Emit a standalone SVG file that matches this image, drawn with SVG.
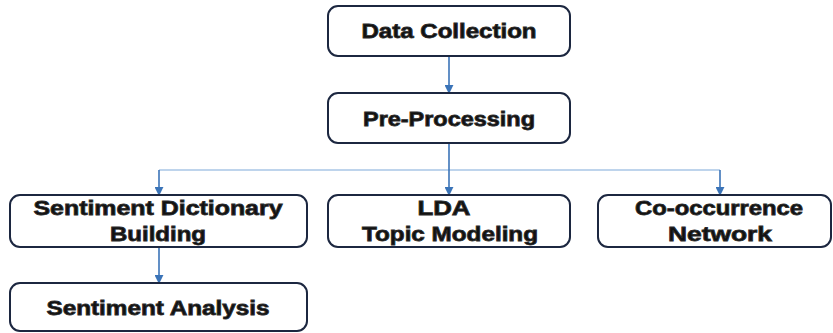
<svg xmlns="http://www.w3.org/2000/svg" width="833" height="333" viewBox="0 0 833 333">
  <defs>
    <style>
      .box { fill: #ffffff; stroke: #1c2740; stroke-width: 2; }
      .lbl { font-family: "Liberation Sans", Arial, sans-serif; font-weight: bold; font-size: 20px; fill: #111111; stroke: #2a2a2a; stroke-width: 0.8; text-anchor: middle; dominant-baseline: central; }
      .trunk { fill: none; stroke: #3b74b8; stroke-width: 1.6; }
      .branch { fill: none; stroke: #a9c6e6; stroke-width: 1.6; }
    </style>
    <marker id="arrow" viewBox="0 0 10 10" refX="9" refY="5" markerWidth="9" markerHeight="9" orient="auto" markerUnits="userSpaceOnUse">
      <path d="M0,0 L10,5 L0,10 Z" fill="#3b74b8"/>
    </marker>
  </defs>
  <rect width="833" height="333" fill="#ffffff"/>

  <g id="connectors">
    <line class="trunk" x1="449" y1="57" x2="449" y2="93" marker-end="url(#arrow)"/>
    <line class="branch" x1="159" y1="170" x2="720" y2="170"/>
    <line class="trunk" x1="449" y1="144" x2="449" y2="195" marker-end="url(#arrow)"/>
    <line class="trunk" x1="159" y1="170" x2="159" y2="195" marker-end="url(#arrow)"/>
    <line class="trunk" x1="720" y1="170" x2="720" y2="195" marker-end="url(#arrow)"/>
    <line class="trunk" x1="159" y1="247" x2="159" y2="283" marker-end="url(#arrow)"/>
  </g>

  <g id="data-collection">
    <rect class="box" x="328" y="6" width="242" height="50" rx="10"/>
    <text class="lbl" x="449" y="31" textLength="175" lengthAdjust="spacingAndGlyphs">Data Collection</text>
  </g>

  <g id="pre-processing">
    <rect class="box" x="328" y="93" width="242" height="50" rx="10"/>
    <text class="lbl" x="449" y="119" textLength="172" lengthAdjust="spacingAndGlyphs">Pre-Processing</text>
  </g>

  <g id="sentiment-dictionary">
    <rect class="box" x="10" y="195" width="297" height="52" rx="10"/>
    <text class="lbl" x="158" y="208" textLength="249" lengthAdjust="spacingAndGlyphs">Sentiment Dictionary</text>
    <text class="lbl" x="158" y="234" textLength="96" lengthAdjust="spacingAndGlyphs">Building</text>
  </g>

  <g id="lda-topic-modeling">
    <rect class="box" x="328" y="195" width="242" height="52" rx="10"/>
    <text class="lbl" x="444" y="208" textLength="53" lengthAdjust="spacingAndGlyphs">LDA</text>
    <text class="lbl" x="450" y="234" textLength="176" lengthAdjust="spacingAndGlyphs">Topic Modeling</text>
  </g>

  <g id="co-occurrence-network">
    <rect class="box" x="598" y="195" width="233" height="52" rx="10"/>
    <text class="lbl" x="719" y="208" textLength="168" lengthAdjust="spacingAndGlyphs">Co-occurrence</text>
    <text class="lbl" x="720" y="234" textLength="104" lengthAdjust="spacingAndGlyphs">Network</text>
  </g>

  <g id="sentiment-analysis">
    <rect class="box" x="10" y="283" width="297" height="48" rx="10"/>
    <text class="lbl" x="158" y="308" textLength="223" lengthAdjust="spacingAndGlyphs">Sentiment Analysis</text>
  </g>
</svg>
